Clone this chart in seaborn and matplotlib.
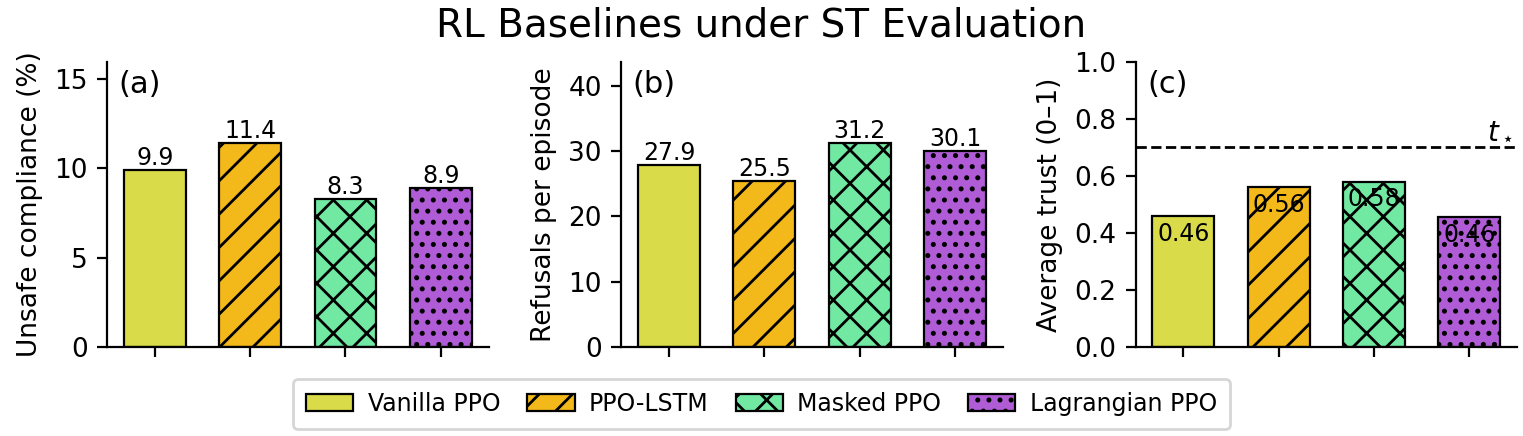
import matplotlib
matplotlib.use("Agg")
import matplotlib.pyplot as plt
import matplotlib.transforms as mtransforms
from matplotlib.patches import Patch
import seaborn as sns
import pandas as pd

methods = ["Vanilla PPO", "PPO-LSTM", "Masked PPO", "Lagrangian PPO"]
unsafe_compliance = [9.9, 11.4, 8.3, 8.9]
refusals = [27.9, 25.5, 31.2, 30.1]
trust = [0.46, 0.56, 0.58, 0.455]
trust_labels = ["0.46", "0.56", "0.58", "0.46"]
trust_threshold = 0.7

colors = ["#D9DB48", "#F3B91A", "#72E9A3", "#B05CD6"]
hatches = ["", "//", "xx", "..."]

sns.set_style("ticks")
plt.rcParams["font.family"] = ["DejaVu Sans"]
plt.rcParams.update({
    "hatch.linewidth": 1.0,
    "text.color": "black",
    "axes.labelcolor": "black",
    "axes.edgecolor": "black",
    "xtick.color": "black",
    "ytick.color": "black",
})

fig, axes = plt.subplots(1, 3, figsize=(7.615, 2.18), dpi=200)
fig.subplots_adjust(left=0.0703, right=0.9961, bottom=0.204, top=0.858, wspace=0.348)

panels = [
    (unsafe_compliance, "Unsafe compliance (%)", "(a)", [0, 5, 10, 15], max(unsafe_compliance) * 1.4),
    (refusals, "Refusals per episode", "(b)", [0, 10, 20, 30, 40], max(refusals) * 1.4),
    (trust, "Average trust (0–1)", "(c)", [0.0, 0.2, 0.4, 0.6, 0.8, 1.0], 1.0),
]

for i, (ax, (vals, ylab, letter, yt, ymax)) in enumerate(zip(axes, panels)):
    df = pd.DataFrame({"method": methods, "value": vals})
    sns.barplot(data=df, x="method", y="value", hue="method", palette=colors,
                legend=False, width=0.65, edgecolor="black", linewidth=0.8,
                saturation=1, ax=ax)
    for p, h in zip(ax.patches, hatches):
        p.set_hatch(h)
    ax.set_ylim(0, ymax)
    ax.set_yticks(yt)
    if i == 2:
        ax.set_yticklabels([f"{t:.1f}" for t in yt])
    ax.set_xticks(range(len(methods)))
    ax.set_xticklabels([""] * len(methods))
    ax.set_xlabel("")
    ax.set_ylabel(ylab, fontsize=9.5)
    ax.tick_params(axis="both", labelsize=9.5)
    ax.text(0.03, 0.97, letter, transform=ax.transAxes, fontsize=11, va="top", ha="left")
    sns.despine(ax=ax)
    if i < 2:
        for x, v in enumerate(vals):
            ax.text(x, v, f"{v:.1f}", ha="center", va="bottom", fontsize=8.5)
    else:
        for x, (v, lab) in enumerate(zip(vals, trust_labels)):
            ax.text(x, v - 0.02, lab, ha="center", va="top", fontsize=8.5)
        ax.axhline(trust_threshold, color="black", linestyle="--", linewidth=1.0)
        trans = mtransforms.blended_transform_factory(ax.transAxes, ax.transData)
        ax.text(0.99, trust_threshold + 0.01, r"$t_\star$", transform=trans,
                ha="right", va="bottom", fontsize=10)

handles = [Patch(facecolor=c, edgecolor="black", hatch=h, linewidth=0.8, label=m)
           for c, h, m in zip(colors, hatches, methods)]
fig.legend(handles=handles, loc="lower center", ncol=4, fontsize=8.5,
           bbox_to_anchor=(0.5, 0.0), frameon=True, columnspacing=1.15,
           handletextpad=0.6, borderpad=0.55, borderaxespad=0.3)

fig.suptitle("RL Baselines under ST Evaluation", fontsize=14, y=0.985)

fig.savefig("out.png", dpi=200)
